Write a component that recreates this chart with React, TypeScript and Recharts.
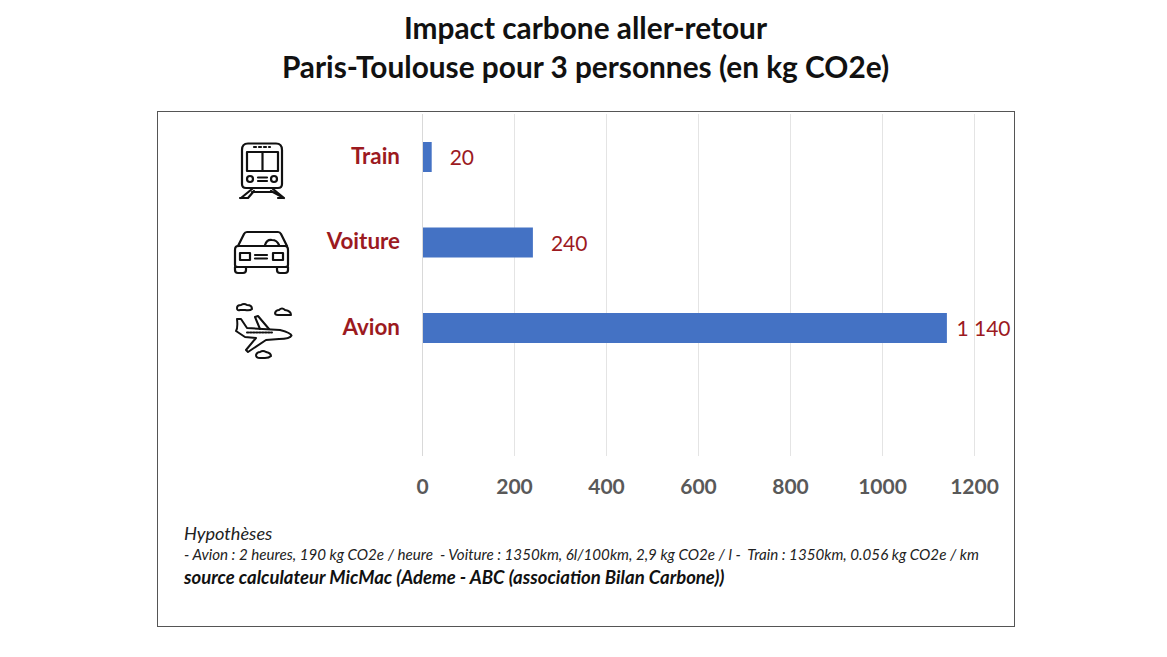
import React from "react";
import { BarChart, Bar, XAxis, YAxis, CartesianGrid, LabelList } from "recharts";

const categories = ["Train", "Voiture", "Avion", ""];
const values: (number | null)[] = [20, 240, 1140, null];
const valueLabels = ["20", "240", "1 140", ""];
const xTicks = [0, 200, 400, 600, 800, 1000, 1200];
const titleLines = ["Impact carbone aller-retour", "Paris-Toulouse pour 3 personnes (en kg CO2e)"];
const noteHeading = "Hypothèses";
const noteAssumptions = "- Avion : 2 heures, 190 kg CO2e / heure  - Voiture : 1350km, 6l/100km, 2,9 kg CO2e / l -  Train : 1350km, 0.056 kg CO2e / km";
const noteSource = "source calculateur MicMac (Ademe - ABC (association Bilan Carbone))";

const data = categories.map((name, i) => ({ name, value: values[i], label: valueLabels[i] }));

const FONT = "Lato, Carlito, sans-serif";
const RED = "#9c1a1f";

const TrainIcon = () => (
  <g fill="none" stroke="#111" strokeWidth={2.2} strokeLinecap="round" strokeLinejoin="round">
    <path d="M248 143.5 H276 Q282 143.5 282 150 V184 Q282 188 278 188 H246 Q242 188 242 184 V150 Q242 143.5 248 143.5z" />
    <path d="M254 147 h16" strokeDasharray="2 3" />
    <rect x="247" y="152" width="31" height="19" />
    <path d="M262.5 152 v19" />
    <circle cx="250" cy="179" r="3" />
    <circle cx="274" cy="179" r="3" />
    <path d="M258 177.5 h9 M258 181 h9" />
    <path d="M252 189 L241 198 M273 189 L284 198 M240 198 h8 L254 191 M278 198 h6 L271 191 M252 192 h21" />
  </g>
);

const CarIcon = () => (
  <g fill="none" stroke="#111" strokeWidth={2.2} strokeLinecap="round" strokeLinejoin="round">
    <path d="M238 246 L244 234 Q245 232 247 232 H278 Q280 232 281 234 L287 246" />
    <path d="M238 246 H285 Q288 246 288 250 V265 Q288 267 285 267 H238 Q235 267 235 265 V250 Q235 246 238 246z" />
    <path d="M265 245 Q267 239 272 240 Q277 240 279 245" />
    <rect x="240" y="253" width="10" height="7" />
    <rect x="273" y="253" width="10" height="7" />
    <path d="M255 255 h12 M255 258.5 h12" />
    <path d="M235 267 v3 q0 3 3 3 h5 q3 0 3 -3 v-3 M277 267 v3 q0 3 3 3 h5 q3 0 3 -3 v-3" />
  </g>
);

const PlaneIcon = () => (
  <g fill="none" stroke="#111" strokeWidth={2} strokeLinecap="round" strokeLinejoin="round">
    <path d="M237 319 L241 319 L247 328 L280 330 Q291 333 291.5 335.5 Q290 339 279 339 L266 340 L248 352 L246 350 L256 338 L245 337 L236 331 Q238 328 237 319z" />
    <path d="M255 317 L258 316 L269 329 M255 317 L260 329" />
    <path d="M247 332.5 H272" strokeDasharray="1.5 1.5" />
    <path d="M237 308 Q237 305 241 305 Q244 303 247 305 Q252 305 252 309 Q250 311 245 310 H240 Q237 311 237 308z" />
    <path d="M275 313 Q276 310 279 310 Q282 307 285 310 Q291 311 291 315 H278 Q275 315 275 313z" />
    <path d="M256 355 Q257 352 260 352 Q263 350 266 352 Q271 353 271 356 Q269 358 265 358 H260 Q256 358 256 355z" />
  </g>
);

const icons: Record<string, React.FC> = { Train: TrainIcon, Voiture: CarIcon, Avion: PlaneIcon };

const CategoryTick = (props: any) => {
  const { y, payload } = props;
  const Icon = icons[payload.value];
  if (!Icon) return null;
  return (
    <g>
      <Icon />
      <text x={400} y={y} dy={7} textAnchor="end" fontFamily={FONT} fontWeight={700} fontSize={22.4} fill={RED}>
        {payload.value}
      </text>
    </g>
  );
};

const ValueLabel = (props: any) => {
  const { x, y, width, height, index } = props;
  const text = valueLabels[index];
  if (!text) return null;
  const gap = text.length > 3 ? 9.5 : 18;
  return (
    <text x={x + width + gap} y={y + height / 2} dy={8} fontFamily={FONT} fontSize={21} fill={RED}>
      {text}
    </text>
  );
};

export default function App() {
  return (
    <div style={{ position: "absolute", left: 0, top: 0, width: 1167, height: 657, background: "#fff", overflow: "hidden", fontFamily: FONT }}>
      {titleLines.map((line, i) => (
        <div key={i} style={{ position: "absolute", left: 0, width: 1171, top: 10 + i * 39, textAlign: "center", fontSize: 29.8, fontWeight: 700, color: "#111", lineHeight: "36px", whiteSpace: "nowrap" }}>
          {line}
        </div>
      ))}
      <div style={{ position: "absolute", left: 157, top: 111, width: 856, height: 514, border: "1px solid #555" }} />
      <div style={{ position: "absolute", left: 0, top: 0 }}>
        <BarChart width={1167} height={657} data={data} layout="vertical" barSize={30} margin={{ top: 114, right: 192.5, bottom: 161, left: 0 }}>
          <CartesianGrid horizontal={false} stroke="#e4e4e4" strokeWidth={1} />
          <XAxis type="number" domain={[0, 1200]} ticks={xTicks} height={40} axisLine={false} tickLine={false} interval={0}
            tick={{ fontFamily: FONT, fontWeight: 700, fontSize: 21, fill: "#595959" }} tickMargin={17} />
          <YAxis type="category" dataKey="name" width={422.5} axisLine={{ stroke: "#d9d9d9" }} tickLine={false} interval={0} tick={<CategoryTick />} />
          <Bar dataKey="value" fill="#4472c4" isAnimationActive={false}>
            <LabelList dataKey="label" content={<ValueLabel />} />
          </Bar>
        </BarChart>
      </div>
      <div style={{ position: "absolute", left: 184, top: 523, fontSize: 18.2, fontStyle: "italic", color: "#222", lineHeight: "20px", whiteSpace: "nowrap" }}>{noteHeading}</div>
      <div style={{ position: "absolute", left: 184, top: 545, fontSize: 15.15, fontStyle: "italic", color: "#222", lineHeight: "18px", whiteSpace: "pre" }}>{noteAssumptions}</div>
      <div style={{ position: "absolute", left: 184, top: 567, fontSize: 18.5, fontStyle: "italic", fontWeight: 700, color: "#111", lineHeight: "20px", whiteSpace: "nowrap" }}>{noteSource}</div>
    </div>
  );
}
